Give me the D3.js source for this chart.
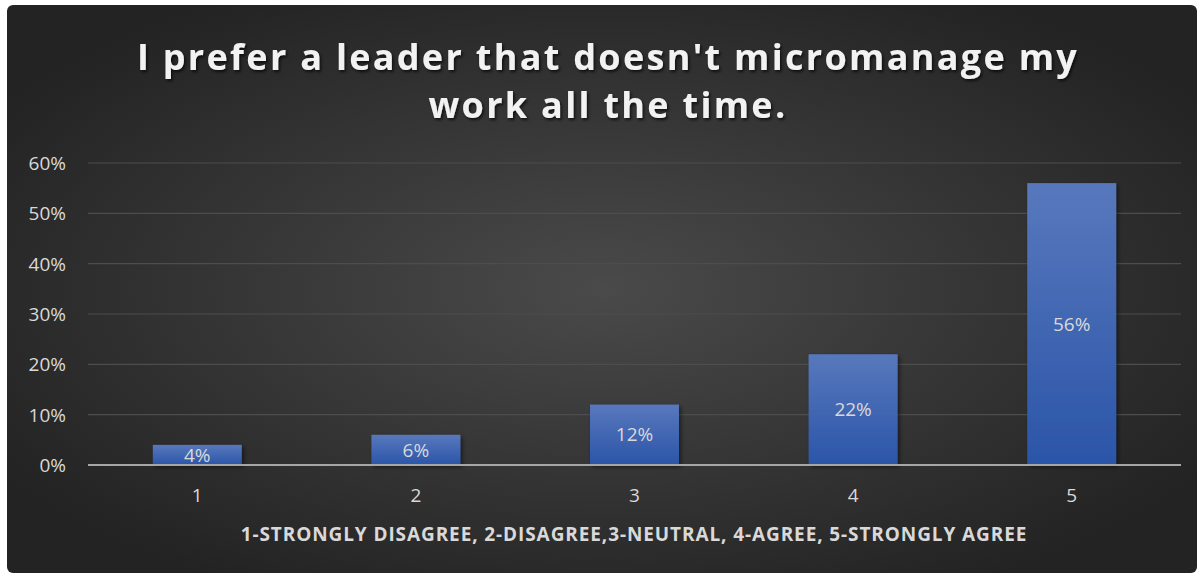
<!DOCTYPE html>
<html><head><meta charset="utf-8">
<script src="https://cdn.jsdelivr.net/npm/d3@7"></script>
<style>
html,body{margin:0;padding:0;background:#fff;}
svg{display:block;}
text{font-family:"Open Sans","Noto Sans",sans-serif;}
</style></head>
<body>
<script>
const categories = ["1","2","3","4","5"];
const values = [0.04, 0.06, 0.12, 0.22, 0.56];
const valueLabels = ["4%","6%","12%","22%","56%"];
const yTicks = [0, 0.1, 0.2, 0.3, 0.4, 0.5, 0.6];
const titleLines = ["I prefer a leader that doesn't micromanage my", "work all the time."];
const xAxisTitle = "1-STRONGLY DISAGREE, 2-DISAGREE,3-NEUTRAL, 4-AGREE, 5-STRONGLY AGREE";

const W = 1201, H = 578;
const svg = d3.select("body").append("svg").attr("width", W).attr("height", H);
const defs = svg.append("defs");

const bg = defs.append("radialGradient").attr("id","bg")
  .attr("cx","50%").attr("cy","50%").attr("r","60%");
bg.append("stop").attr("offset","0%").attr("stop-color","#4a4a4a");
bg.append("stop").attr("offset","100%").attr("stop-color","#232323");

const bar = defs.append("linearGradient").attr("id","bar").attr("x1",0).attr("y1",0).attr("x2",0).attr("y2",1);
bar.append("stop").attr("offset","0%").attr("stop-color","#5878bd");
bar.append("stop").attr("offset","100%").attr("stop-color","#2b55a8");

const sh = defs.append("filter").attr("id","sh").attr("x","-20%").attr("y","-20%").attr("width","150%").attr("height","150%");
sh.append("feDropShadow").attr("dx",2).attr("dy",2).attr("stdDeviation",2).attr("flood-color","#000").attr("flood-opacity",0.5);
const tsh = defs.append("filter").attr("id","tsh").attr("x","-5%").attr("y","-20%").attr("width","110%").attr("height","150%");
tsh.append("feDropShadow").attr("dx",1.5).attr("dy",2).attr("stdDeviation",1.5).attr("flood-color","#000").attr("flood-opacity",0.7);

svg.append("rect").attr("x",7).attr("y",5).attr("width",1190).attr("height",568).attr("rx",6).attr("fill","url(#bg)");

const x = d3.scaleBand().domain(categories).range([88,1181]).paddingInner(0.593).paddingOuter(0.2965);
const y = d3.scaleLinear().domain([0,0.6]).range([465,163]);

// gridlines
svg.append("g").selectAll("line").data(yTicks.filter(d=>d>0)).join("line")
  .attr("x1",88).attr("x2",1181).attr("y1",d=>y(d)).attr("y2",d=>y(d))
  .attr("stroke","#4d4d4d").attr("stroke-width",1.2);

// y axis labels
const yAxis = d3.axisLeft(y).tickValues(yTicks).tickFormat(d3.format(".0%")).tickSize(0).tickPadding(0);
const yg = svg.append("g").attr("transform","translate(66,0)").call(yAxis);
yg.select(".domain").remove();
yg.selectAll("text").attr("fill","#d9d9d9").style("font-size","19px").attr("dy","0.35em");

// bars
svg.append("g").selectAll("rect").data(values).join("rect")
  .attr("x",(d,i)=>x(categories[i])).attr("width",x.bandwidth())
  .attr("y",d=>y(d)).attr("height",d=>y(0)-y(d))
  .attr("fill","url(#bar)").attr("filter","url(#sh)");

// x axis line
svg.append("line").attr("x1",88).attr("x2",1181).attr("y1",y(0)).attr("y2",y(0))
  .attr("stroke","#a6a6a6").attr("stroke-width",2);

// value labels
svg.append("g").selectAll("text").data(values).join("text")
  .attr("x",(d,i)=>x(categories[i])+x.bandwidth()/2)
  .attr("y",d=>(y(d)+y(0))/2).attr("dy","0.35em")
  .attr("text-anchor","middle").attr("fill","#d9d9d9").style("font-size","19px")
  .text((d,i)=>valueLabels[i]);

// x axis labels
const xAxis = d3.axisBottom(x).tickSize(0).tickPadding(0);
const xg = svg.append("g").attr("transform","translate(0,495)").call(xAxis);
xg.select(".domain").remove();
xg.selectAll("text").attr("fill","#d9d9d9").style("font-size","19px").attr("dy","0.35em");

// axis title
svg.append("text").attr("x",634).attr("y",541).attr("text-anchor","middle")
  .attr("fill","#d9d9d9").style("font-size","19px").style("font-weight","bold").style("letter-spacing","0.9px")
  .text(xAxisTitle);

// title
svg.append("g").selectAll("text").data(titleLines).join("text")
  .attr("x",608).attr("y",(d,i)=>70+i*48).attr("text-anchor","middle")
  .attr("fill","#f2f2f2").attr("filter","url(#tsh)")
  .style("font-size","36px").style("font-weight","bold").style("letter-spacing","2.3px")
  .text(d=>d);
</script>
</body></html>
